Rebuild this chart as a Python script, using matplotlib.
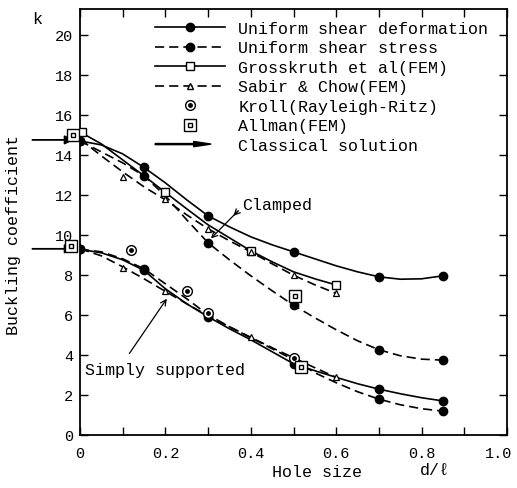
import numpy as np
import matplotlib.pyplot as plt
import matplotlib.transforms as mtransforms
from matplotlib.lines import Line2D
from matplotlib.patches import FancyArrow
from matplotlib.legend_handler import HandlerPatch

plt.rcParams['font.family'] = ['Liberation Mono', 'DejaVu Sans Mono']

# marker data (hole size d/l, buckling coefficient k)
theory_x = [0, 0.15, 0.3, 0.5, 0.7, 0.85]
clamp_usd = [14.7, 13.37, 10.95, 9.15, 7.9, 7.95]
clamp_uss = [14.7, 12.95, 9.6, 6.48, 4.25, 3.73]
simp_usd = [9.28, 8.22, 5.9, 3.55, 2.28, 1.69]
simp_uss = [9.28, 8.3, 6.0, 3.75, 1.78, 1.18]

gk_x = [0.005, 0.2, 0.4, 0.6]
clamp_gk = [15.15, 12.12, 9.2, 7.49]

sabir_x = [0.1, 0.2, 0.3, 0.4, 0.5, 0.6]
clamp_sabir = [12.9, 11.78, 10.3, 9.15, 7.98, 7.07]
simp_sabir_x = [0.1, 0.2, 0.4, 0.5, 0.6]
simp_sabir = [8.35, 7.17, 4.87, 3.85, 2.87]

kroll_x = [0.12, 0.25, 0.3, 0.5]
kroll_k = [9.23, 7.2, 6.1, 3.85]

allman_x = [-0.017, 0.503, -0.02, 0.517]
allman_k = [15.0, 6.92, 9.42, 3.37]

classical_k = [14.75, 9.3]

# curves
curve_x = [0, 0.05, 0.1, 0.15, 0.2, 0.25, 0.3, 0.35, 0.4, 0.45, 0.5,
           0.55, 0.6, 0.65, 0.7, 0.75, 0.8, 0.85]
clamp_usd_line = [14.7, 14.5, 14.05, 13.37, 12.6, 11.75, 10.95, 10.4, 9.9,
                  9.5, 9.15, 8.8, 8.45, 8.15, 7.9, 7.78, 7.8, 7.95]
clamp_uss_line = [14.7, 14.15, 13.6, 12.95, 11.95, 10.75, 9.6, 8.75, 7.95,
                  7.2, 6.48, 5.85, 5.25, 4.7, 4.25, 3.95, 3.78, 3.73]
simp_usd_line = [9.28, 9.1, 8.75, 8.22, 7.3, 6.55, 5.9, 5.3, 4.75, 4.15,
                 3.55, 3.2, 2.87, 2.55, 2.28, 2.05, 1.85, 1.69]
simp_uss_line = [9.28, 9.15, 8.8, 8.3, 7.55, 6.8, 6.0, 5.4, 4.85, 4.3,
                 3.75, 3.1, 2.6, 2.15, 1.78, 1.5, 1.3, 1.18]

fem_x = [0, 0.05, 0.1, 0.15, 0.2, 0.25, 0.3, 0.35, 0.4, 0.45, 0.5, 0.55, 0.6]
clamp_gk_line = [15.15, 14.55, 13.75, 12.95, 12.12, 11.3, 10.5, 9.85, 9.2,
                 8.65, 8.15, 7.8, 7.49]
clamp_sabir_line = [14.8, 13.95, 13.15, 12.4, 11.75, 11.0, 10.3, 9.7, 9.15,
                    8.55, 7.98, 7.5, 7.07]
simp_sabir_line = [9.3, 8.95, 8.4, 7.8, 7.17, 6.55, 5.95, 5.4, 4.87, 4.35,
                   3.85, 3.35, 2.87]

dash = (0, (5.5, 3))
lw = 1.2

fig = plt.figure(figsize=(5.17, 4.89), dpi=100)
ax = fig.add_axes([80 / 517, 1 - 435.7 / 489, 427 / 517, 425.7 / 489])

# lines
ax.plot(curve_x, clamp_usd_line, 'k-', lw=lw)
ax.plot(curve_x, clamp_uss_line, 'k', ls=dash, lw=lw)
ax.plot(curve_x, simp_usd_line, 'k-', lw=lw)
ax.plot(curve_x, simp_uss_line, 'k', ls=dash, lw=lw)
ax.plot(fem_x, clamp_gk_line, 'k-', lw=lw)
ax.plot(fem_x, clamp_sabir_line, 'k', ls=dash, lw=lw)
ax.plot(fem_x, simp_sabir_line, 'k', ls=dash, lw=lw)

# markers
for ys in (clamp_usd, clamp_uss, simp_usd, simp_uss):
    ax.plot(theory_x, ys, 'ko', ms=6, ls='none', zorder=4)
ax.plot(gk_x, clamp_gk, 's', ms=6, mfc='white', mec='k', mew=1, ls='none', zorder=4)
ax.plot(sabir_x, clamp_sabir, '^', ms=4.5, mfc='white', mec='k', mew=0.9, ls='none', zorder=4)
ax.plot(simp_sabir_x, simp_sabir, '^', ms=4.5, mfc='white', mec='k', mew=0.9, ls='none', zorder=4)
ax.plot(kroll_x, kroll_k, 'o', ms=7, mfc='white', mec='k', mew=1, ls='none', zorder=5, clip_on=False)
ax.plot(kroll_x, kroll_k, 'o', ms=2.5, mfc='k', mec='k', ls='none', zorder=6, clip_on=False)
ax.plot(allman_x, allman_k, 's', ms=8, mfc='white', mec='k', mew=1, ls='none', zorder=5, clip_on=False)
ax.plot(allman_x, allman_k, 's', ms=3.5, mfc='white', mec='k', mew=1, ls='none', zorder=6, clip_on=False)

# classical solution arrows
for k in classical_k:
    ax.annotate('', xy=(-0.008, k), xytext=(-0.118, k),
                arrowprops=dict(arrowstyle='-|>', color='k', lw=1.3, mutation_scale=13),
                annotation_clip=False)

# labels on curves
ax.text(0.38, 11.5, 'Clamped', fontsize=12, va='center', ha='left')
ax.annotate('', xy=(0.302, 9.72), xytext=(0.375, 11.3),
            arrowprops=dict(arrowstyle='->', color='k', lw=0.9))
ax.annotate('', xy=(0.355, 10.85), xytext=(0.375, 11.3),
            arrowprops=dict(arrowstyle='->', color='k', lw=0.9))
ax.text(0.012, 3.25, 'Simply supported', fontsize=12, va='center', ha='left')
ax.annotate('', xy=(0.207, 6.92), xytext=(0.112, 3.95),
            arrowprops=dict(arrowstyle='->', color='k', lw=0.9))

ax.set_xlim(0, 1.0)
ax.set_ylim(0, 21.3)
ax.set_xticks([0, 0.2, 0.4, 0.6, 0.8, 1.0])
ax.set_xticklabels(['0', '0.2', '0.4', '0.6', '0.8', '1.0'])
ax.set_xticks([0.1, 0.3, 0.5, 0.7, 0.9], minor=True)
ax.set_yticks(range(0, 21, 2))
ax.tick_params(which='both', direction='in', top=True, right=True,
               length=6, width=1, labelsize=11)
ax.tick_params(axis='x', pad=8)
ax.tick_params(axis='y', pad=5)
for s in ax.spines.values():
    s.set_linewidth(1.3)
# keep the last x tick label inside the figure
last = ax.get_xticklabels()[-1]
last.set_transform(last.get_transform() +
                   mtransforms.ScaledTranslation(-8 / 100, 0, fig.dpi_scale_trans))

fig.text(37 / 517, 1 - 20 / 489, 'k', fontsize=12, ha='center', va='center')
fig.text(14 / 517, 1 - 235 / 489, 'Buckling coefficient', fontsize=12,
         rotation=90, ha='center', va='center')
fig.text(317 / 517, 1 - 473 / 489, 'Hole size', fontsize=12, ha='center', va='center')
fig.text(435 / 517, 1 - 471 / 489, 'd/ℓ', fontsize=12, ha='center', va='center',
         family=['Liberation Mono', 'DejaVu Sans Mono'])

# legend
def make_arrow(legend, orig_handle, xdescent, ydescent, width, height, fontsize):
    return FancyArrow(0, height / 2, width * 0.8, 0, width=0.8,
                      length_includes_head=True, head_width=0.45 * height,
                      head_length=0.25 * width)

h_usd = Line2D([], [], color='k', ls='-', lw=lw, marker='o', ms=6)
h_uss = Line2D([], [], color='k', ls=dash, lw=lw, marker='o', ms=6)
h_gk = Line2D([], [], color='k', ls='-', lw=lw, marker='s', ms=6, mfc='white')
h_sab = Line2D([], [], color='k', ls=dash, lw=lw, marker='^', ms=4.5, mfc='white')
h_kr = (Line2D([], [], ls='none', marker='o', ms=7, mfc='white', mec='k'),
        Line2D([], [], ls='none', marker='o', ms=2.5, mfc='k', mec='k'))
h_al = (Line2D([], [], ls='none', marker='s', ms=8, mfc='white', mec='k'),
        Line2D([], [], ls='none', marker='s', ms=3.5, mfc='white', mec='k'))
h_cl = FancyArrow(0, 0, 1, 0, color='k')

ax.legend([h_usd, h_uss, h_gk, h_sab, h_kr, h_al, h_cl],
          ['Uniform shear deformation', 'Uniform shear stress',
           'Grosskruth et al(FEM)', 'Sabir & Chow(FEM)',
           'Kroll(Rayleigh-Ritz)', 'Allman(FEM)', 'Classical solution'],
          handler_map={FancyArrow: HandlerPatch(patch_func=make_arrow)},
          loc='upper left', bbox_to_anchor=(0.176, 0.972), borderaxespad=0,
          borderpad=0, frameon=False, fontsize=12, handlelength=4.2,
          handletextpad=0.8, labelspacing=0.27, numpoints=1)

fig.savefig('out.png', dpi=100)
